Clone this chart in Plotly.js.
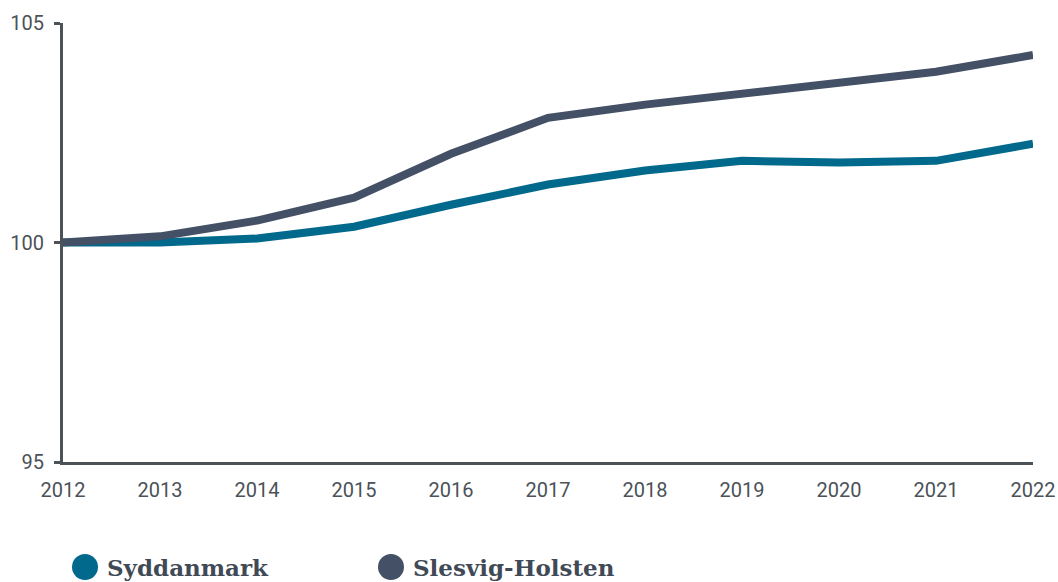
<!DOCTYPE html>
<html>
<head>
<meta charset="utf-8">
<script src="https://cdn.plot.ly/plotly-3.0.1.min.js"></script>
<style>html,body{margin:0;padding:0;background:#fff;}#chart{width:1058px;height:582px;}</style>
</head>
<body>
<div id="chart"></div>
<script>
var years = [2012, 2013, 2014, 2015, 2016, 2017, 2018, 2019, 2020, 2021, 2022];
var syddanmark = [100, 100.0, 100.09, 100.36, 100.86, 101.32, 101.64, 101.86, 101.82, 101.86, 102.25];
var slesvigHolsten = [100, 100.14, 100.5, 101.02, 102.02, 102.84, 103.14, 103.39, 103.64, 103.89, 104.27];
var seriesNames = ['Syddanmark', 'Slesvig-Holsten'];
var seriesColors = ['#00698c', '#435065'];
var yTicks = [95, 100, 105];

var traces = [
  {x: years, y: syddanmark, name: seriesNames[0], mode: 'lines', line: {color: seriesColors[0], width: 8}, showlegend: false, cliponaxis: false},
  {x: years, y: slesvigHolsten, name: seriesNames[1], mode: 'lines', line: {color: seriesColors[1], width: 8}, showlegend: false, cliponaxis: false}
];

var plotH = 582 - 23 - 120;
var legY = (462 - 567) / plotH;
var plotW = 1058 - 63 - 25;
function px(x) { return (x - 63) / plotW; }

var legendX = [85, 391];
var shapes = [], annotations = [];
for (var i = 0; i < seriesNames.length; i++) {
  var r = 13;
  shapes.push({type: 'circle', xref: 'paper', yref: 'paper',
    x0: px(legendX[i] - r), x1: px(legendX[i] + r),
    y0: legY - r / plotH, y1: legY + r / plotH,
    fillcolor: seriesColors[i], line: {width: 0}});
  annotations.push({xref: 'paper', yref: 'paper', x: px(legendX[i] + 20), y: legY,
    xanchor: 'left', yanchor: 'middle', showarrow: false, text: '<b>' + seriesNames[i] + '</b>',
    font: {family: 'DejaVu Serif', size: 23, color: '#3f4a56'}});
}

var layout = {
  width: 1058, height: 582,
  margin: {l: 63, r: 25, t: 23, b: 120},
  paper_bgcolor: '#fff', plot_bgcolor: '#fff',
  showlegend: false,
  xaxis: {range: [2012, 2022], tickvals: years, ticktext: years.map(String),
    showgrid: false, zeroline: false, showline: true, linecolor: '#4b5258', linewidth: 3,
    ticks: '', ticklabelstandoff: 8, tickfont: {family: 'Roboto', size: 20, color: '#4b5258'}},
  yaxis: {range: [95, 105], tickvals: yTicks, ticktext: yTicks.map(String),
    showgrid: false, zeroline: false, showline: true, linecolor: '#4b5258', linewidth: 3,
    ticks: 'outside', ticklen: 6, tickwidth: 3, tickcolor: '#4b5258', ticklabelstandoff: 6,
    tickfont: {family: 'Roboto', size: 20, color: '#4b5258'}},
  shapes: shapes,
  annotations: annotations
};

Plotly.newPlot('chart', traces, layout, {displayModeBar: false, staticPlot: true});
</script>
</body>
</html>
